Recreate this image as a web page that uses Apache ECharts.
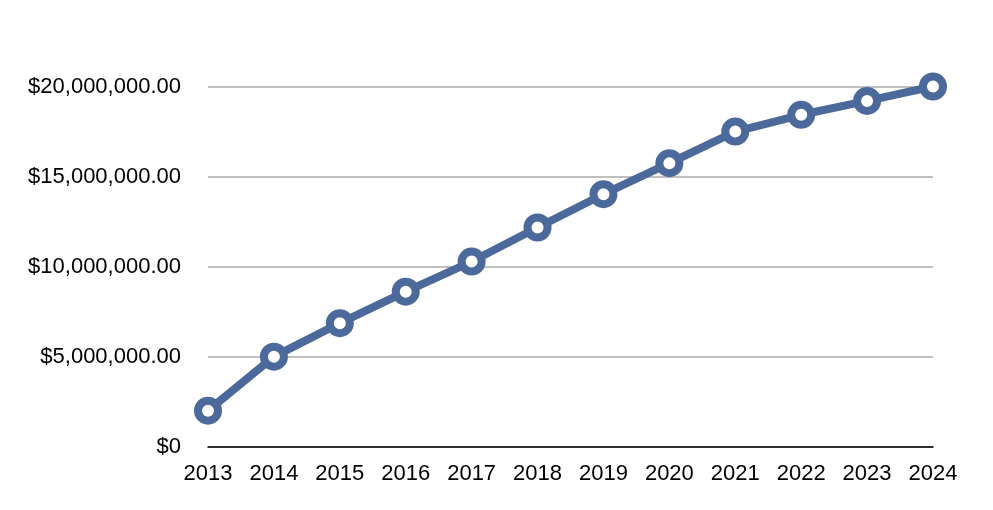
<!DOCTYPE html>
<html><head><meta charset="utf-8">
<script src="https://cdn.jsdelivr.net/npm/echarts@6/dist/echarts.min.js"></script>
<style>html,body{margin:0;padding:0;background:#fff}#c{width:993px;height:510px}</style>
</head><body><div id="c"></div>
<script>
const years = ['2013','2014','2015','2016','2017','2018','2019','2020','2021','2022','2023','2024'];
const values = [2000000, 5000000, 6860000, 8610000, 10280000, 12170000, 14020000, 15740000, 17500000, 18430000, 19200000, 20000000];
const yTicks = [0, 5000000, 10000000, 15000000, 20000000];

function fmt(v){
  if (v === 0) return '$0';
  return '$' + v.toLocaleString('en-US', {minimumFractionDigits:2, maximumFractionDigits:2});
}
const chart = echarts.init(document.getElementById('c'), null, {renderer:'canvas'});
chart.setOption({
  animation:false,
  backgroundColor:'#fff',
  grid:{left:208, right:60, top:86.5, bottom:63.3, containLabel:false},
  xAxis:{type:'category', data:years, boundaryGap:false,
    axisLine:{lineStyle:{color:'#000', width:1.5}},
    axisTick:{show:false},
    axisLabel:{color:'#000', fontFamily:'Liberation Sans', fontSize:22, margin:16}},
  yAxis:{type:'value', min:yTicks[0], max:yTicks[yTicks.length-1], interval:yTicks[1]-yTicks[0],
    axisLine:{show:false}, axisTick:{show:false},
    splitLine:{lineStyle:{color:'#aaaaaa', width:1.5}},
    axisLabel:{color:'#000', fontFamily:'Liberation Sans', fontSize:22, margin:27, padding:[3,0,0,0], formatter:fmt}},
  series:[{type:'line', data:values, symbol:'circle', symbolSize:20,
    lineStyle:{color:'#4b6a9b', width:8},
    itemStyle:{color:'#fff', borderColor:'#4b6a9b', borderWidth:8}}]
});
</script></body></html>
